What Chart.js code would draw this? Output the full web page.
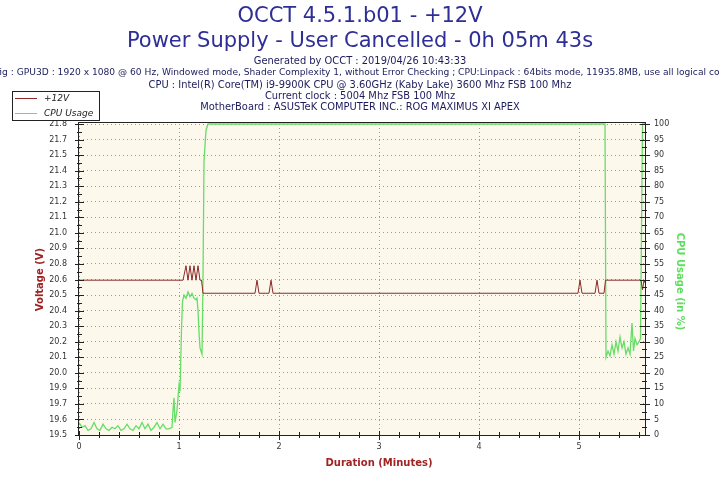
<!DOCTYPE html>
<html>
<head>
<meta charset="utf-8">
<script src="https://cdn.jsdelivr.net/npm/chart.js@4.4.1/dist/chart.umd.min.js"></script>
<style>
  html, body { margin: 0; padding: 0; background: #fff; }
  #wrap { width: 720px; height: 480px; position: relative; }
</style>
</head>
<body>
<div id="wrap"><canvas id="occt"></canvas></div>
<script>
"use strict";

// header text
const titleLines = ["OCCT 4.5.1.b01 - +12V", "Power Supply - User Cancelled - 0h 05m 43s"];
const infoLines = [
  "Generated by OCCT : 2019/04/26 10:43:33",
  "Config : GPU3D : 1920 x 1080 @ 60 Hz, Windowed mode, Shader Complexity 1, without Error Checking ; CPU:Linpack : 64bits mode, 11935.8MB, use all logical cores",
  "CPU : Intel(R) Core(TM) i9-9900K CPU @ 3.60GHz (Kaby Lake) 3600 Mhz FSB 100 Mhz",
  "Current clock : 5004 Mhz FSB 100 Mhz",
  "MotherBoard : ASUSTeK COMPUTER INC.: ROG MAXIMUS XI APEX"
];
const seriesNames = ["+12V", "CPU Usage"];
const xTitle = "Duration (Minutes)";
const voltTitle = "Voltage (V)";
const cpuTitle = "CPU Usage (in %)";

// axes
const minuteTicks = [0, 1, 2, 3, 4, 5];
const minuteMax = 5.66;
const voltMin = 19.515;
const voltStep = 0.113;
const voltTickLabels = ["19.5", "19.6", "19.7", "19.9", "20.0", "20.1", "20.2", "20.3", "20.4", "20.5", "20.6",
  "20.8", "20.9", "21.0", "21.1", "21.2", "21.3", "21.4", "21.5", "21.7", "21.8"];
const cpuTicks = [0, 5, 10, 15, 20, 25, 30, 35, 40, 45, 50, 55, 60, 65, 70, 75, 80, 85, 90, 95, 100];

// +12V series (minutes, volts)
const voltTime = [0, 1.04, 1.07, 1.09, 1.11, 1.13, 1.15, 1.17, 1.19, 1.21, 1.225, 1.24,
  1.76, 1.78, 1.80, 1.90, 1.92, 1.94, 4.99, 5.01, 5.03, 5.16, 5.18, 5.20, 5.25, 5.265,
  5.62, 5.635, 5.65, 5.66];
const voltValues = [20.64, 20.64, 20.745, 20.64, 20.745, 20.64, 20.745, 20.64, 20.745, 20.64, 20.64, 20.545,
  20.545, 20.64, 20.545, 20.545, 20.64, 20.545, 20.545, 20.64, 20.545, 20.545, 20.64, 20.545, 20.545, 20.64,
  20.64, 20.57, 20.64, 20.62];

// CPU usage series (minutes, %)
const cpuTime = [0, 0.03, 0.06, 0.09, 0.12, 0.15, 0.18, 0.21, 0.24, 0.27, 0.30, 0.33, 0.36, 0.39, 0.42,
  0.45, 0.48, 0.51, 0.54, 0.57, 0.60, 0.63, 0.66, 0.69, 0.72, 0.75, 0.78, 0.81, 0.84, 0.87, 0.90, 0.93,
  0.94, 0.95, 0.96, 0.98, 1.00, 1.01, 1.025, 1.035, 1.05, 1.07, 1.09, 1.11, 1.13, 1.15, 1.17, 1.18,
  1.19, 1.20, 1.21, 1.22, 1.23, 1.24, 1.25, 1.27, 1.29, 5.26, 5.27, 5.29, 5.31, 5.33, 5.35, 5.37,
  5.39, 5.41, 5.43, 5.45, 5.47, 5.49, 5.51, 5.53, 5.545, 5.56, 5.58, 5.60, 5.615, 5.635, 5.66];
const cpuValues = [4, 2.5, 3, 1.5, 2, 4, 2, 1.5, 3.5, 2, 1.5, 2.5, 2, 3, 1.5,
  2, 3.5, 2, 1.5, 3, 2, 4, 2, 3.5, 1.5, 2.5, 4, 2, 3.5, 2, 2, 2.5,
  8, 12, 4, 8, 16, 14, 34, 43, 45, 44, 46, 44.5, 45.5, 44, 43.5, 44,
  40, 33, 28, 27, 26, 50, 88, 98, 100, 100, 25, 27, 25.5, 29, 26, 30,
  27, 31.5, 28, 30, 26, 28, 26, 36, 27, 31, 29, 30, 31, 100, 100];

const voltColor = "#8c2a2a";
const cpuColor = "#66dd66";
const frameColor = "#222";

function toPoints(xs, ys) {
  return xs.map((x, i) => ({ x: x, y: ys[i] }));
}

const voltTickValues = voltTickLabels.map((l, i) => voltMin + i * voltStep);

const occtFrame = {
  id: "occtFrame",
  beforeDraw(chart) {
    const { ctx, chartArea: a } = chart;
    ctx.save();
    ctx.fillStyle = "#fff";
    ctx.fillRect(0, 0, chart.width, chart.height);
    ctx.fillStyle = "#fcf9ec";
    ctx.fillRect(a.left, a.top, a.right - a.left, a.bottom - a.top);
    ctx.restore();
  },
  afterDraw(chart) {
    const { ctx, chartArea: a } = chart;
    const sx = chart.scales.x, sv = chart.scales.y, sc = chart.scales.y1;
    ctx.save();

    // frame, drawn just outside the plot so edge values stay visible
    ctx.strokeStyle = frameColor;
    ctx.lineWidth = 1;
    ctx.strokeRect(a.left - 0.5, a.top - 1.5, a.right - a.left + 1, a.bottom - a.top + 2);

    // crossing tick marks
    ctx.beginPath();
    voltTickValues.forEach((v, i) => {
      const y = Math.round(sv.getPixelForValue(v)) + 0.5;
      ctx.moveTo(a.left - 4, y); ctx.lineTo(a.left + 5, y);
      if (i < voltTickValues.length - 1) {
        const ym = Math.round(sv.getPixelForValue(v + voltStep / 2)) + 0.5;
        ctx.moveTo(a.left - 2, ym); ctx.lineTo(a.left + 3, ym);
      }
    });
    cpuTicks.forEach((v, i) => {
      const y = Math.round(sc.getPixelForValue(v)) + 0.5;
      ctx.moveTo(a.right - 5, y); ctx.lineTo(a.right + 5, y);
      if (i < cpuTicks.length - 1) {
        const ym = Math.round(sc.getPixelForValue(v + 2.5)) + 0.5;
        ctx.moveTo(a.right - 3, ym); ctx.lineTo(a.right + 2, ym);
      }
    });
    for (let m = 0; m <= minuteMax + 0.001; m += 0.2) {
      const x = Math.round(sx.getPixelForValue(m)) + 0.5;
      const major = Math.abs(m - Math.round(m)) < 0.01;
      ctx.moveTo(x, a.bottom - (major ? 4 : 3)); ctx.lineTo(x, a.bottom + (major ? 5 : 3));
    }
    ctx.stroke();

    // header
    ctx.textAlign = "center";
    ctx.textBaseline = "middle";
    ctx.fillStyle = "#2e2e96";
    ctx.font = "21px 'DejaVu Sans'";
    ctx.fillText(titleLines[0], 360, 17);
    ctx.fillText(titleLines[1], 360, 42);
    ctx.fillStyle = "#1c1c5c";
    const infoY = [61, 73, 85, 96, 107];
    infoLines.forEach((t, i) => {
      // the long config line is wider than the page and gets cut at both sides
      ctx.font = (i === 1 ? "9.12px" : "9.9px") + " 'DejaVu Sans'";
      ctx.fillText(t, i === 1 ? 356 : 360, infoY[i]);
    });

    // axis titles
    ctx.font = "bold 10px 'DejaVu Sans'";
    ctx.fillStyle = "#a02424";
    ctx.fillText(xTitle, 379, 463);
    ctx.save();
    ctx.translate(40, (a.top + a.bottom) / 2);
    ctx.rotate(-Math.PI / 2);
    ctx.fillText(voltTitle, 0, 0);
    ctx.restore();
    ctx.save();
    ctx.fillStyle = "#5ede5e";
    ctx.translate(680, (a.top + a.bottom) / 2 + 2);
    ctx.rotate(Math.PI / 2);
    ctx.fillText(cpuTitle, 0, 0);
    ctx.restore();

    // legend
    ctx.fillStyle = "#fff";
    ctx.fillRect(12, 91, 88, 30);
    ctx.strokeStyle = frameColor;
    ctx.strokeRect(12.5, 91.5, 87, 29);
    ctx.lineWidth = 1;
    ctx.strokeStyle = voltColor;
    ctx.beginPath(); ctx.moveTo(15, 98.5); ctx.lineTo(37, 98.5); ctx.stroke();
    ctx.strokeStyle = cpuColor;
    ctx.beginPath(); ctx.moveTo(15, 113.5); ctx.lineTo(37, 113.5); ctx.stroke();
    ctx.fillStyle = "#222";
    ctx.textAlign = "left";
    ctx.font = "italic 9px 'DejaVu Sans'";
    ctx.fillText(seriesNames[0], 44, 99);
    ctx.fillText(seriesNames[1], 44, 114);

    ctx.restore();
  }
};

const tickFont = { family: "'DejaVu Sans'", size: 8 };

new Chart(document.getElementById("occt"), {
  type: "line",
  data: {
    datasets: [
      {
        label: seriesNames[0],
        data: toPoints(voltTime, voltValues),
        yAxisID: "y",
        borderColor: voltColor,
        borderWidth: 1,
        pointRadius: 0,
        tension: 0,
        clip: 2
      },
      {
        label: seriesNames[1],
        data: toPoints(cpuTime, cpuValues),
        yAxisID: "y1",
        borderColor: cpuColor,
        borderWidth: 1.3,
        pointRadius: 0,
        tension: 0,
        clip: 2
      }
    ]
  },
  options: {
    responsive: true,
    maintainAspectRatio: false,
    devicePixelRatio: 1,
    animation: false,
    layout: { padding: { top: 124, left: 0, right: 0, bottom: 0 } },
    plugins: {
      legend: { display: false },
      tooltip: { enabled: false }
    },
    scales: {
      x: {
        type: "linear",
        min: 0,
        max: minuteMax,
        afterBuildTicks: (s) => { s.ticks = minuteTicks.map((v) => ({ value: v })); },
        afterFit: (s) => { s.height = 45; },
        ticks: { font: tickFont, color: "#333", padding: 7, maxRotation: 0, callback: (v) => String(v) },
        grid: { color: "#999", drawTicks: false },
        border: { display: false, dash: [1, 3] }
      },
      y: {
        type: "linear",
        position: "left",
        min: voltMin,
        max: voltMin + 20 * voltStep,
        afterBuildTicks: (s) => { s.ticks = voltTickValues.map((v) => ({ value: v })); },
        afterFit: (s) => { s.width = 79; },
        ticks: { font: tickFont, color: "#333", padding: 12, callback: (v, i) => voltTickLabels[i] },
        grid: { color: "#999", drawTicks: false },
        border: { display: false, dash: [1, 3] }
      },
      y1: {
        type: "linear",
        position: "right",
        min: 0,
        max: 100,
        afterBuildTicks: (s) => { s.ticks = cpuTicks.map((v) => ({ value: v })); },
        afterFit: (s) => { s.width = 75; },
        ticks: { font: tickFont, color: "#333", padding: 9, callback: (v) => String(v) },
        grid: { display: false, drawTicks: false },
        border: { display: false }
      }
    }
  },
  plugins: [occtFrame]
});
</script>
</body>
</html>
